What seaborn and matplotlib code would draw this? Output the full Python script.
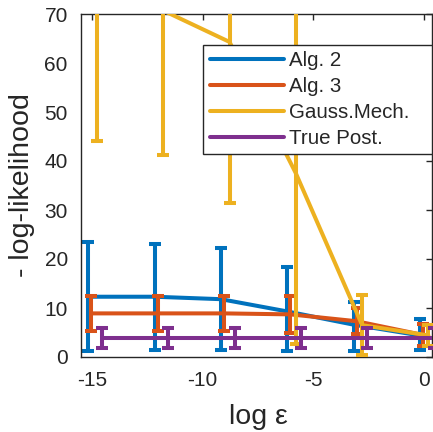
import numpy as np
import pandas as pd
import matplotlib
matplotlib.use("Agg")
import matplotlib.pyplot as plt
import seaborn as sns

# ---- data ----
log_eps = [-15, -12, -9, -6, -3, 0]
series = ["Alg. 2", "Alg. 3", "Gauss.Mech.", "True Post."]
x_offset = {"Alg. 2": -0.17, "Alg. 3": -0.03, "Gauss.Mech.": 0.22, "True Post.": 0.45}

alg2_mean = [12.3, 12.3, 11.8, 9.3, 6.6, 4.4]
alg2_low = [1.3, 1.4, 1.4, 1.3, 1.2, 1.4]
alg2_high = [23.4, 23.1, 22.2, 18.4, 11.3, 7.7]

alg3_mean = [8.9, 8.9, 8.9, 8.7, 7.3, 4.5]
alg3_low = [5.4, 5.3, 5.3, 5.0, 4.6, 2.3]
alg3_high = [12.5, 12.5, 12.5, 12.5, 10.0, 6.7]

gauss_mean = [78.0, 70.7, 64.3, 37.5, 6.5, 4.4]
gauss_low = [44.1, 41.3, 31.4, 2.6, 0.4, 2.2]
gauss_high = [112.0, 100.0, 97.0, 72.0, 12.65, 6.6]

true_mean = [3.9, 3.9, 3.9, 3.9, 3.9, 3.9]
true_low = [1.8, 1.8, 1.8, 1.8, 1.8, 1.8]
true_high = [6.0, 6.0, 6.0, 6.0, 6.0, 6.0]

x_ticks = [-15, -10, -5, 0]
y_ticks = [0, 10, 20, 30, 40, 50, 60, 70]

colors = {"Alg. 2": "#0072BD", "Alg. 3": "#D95319",
          "Gauss.Mech.": "#EDB120", "True Post.": "#7E2F8E"}

data = {
    "Alg. 2": (alg2_mean, alg2_low, alg2_high),
    "Alg. 3": (alg3_mean, alg3_low, alg3_high),
    "Gauss.Mech.": (gauss_mean, gauss_low, gauss_high),
    "True Post.": (true_mean, true_low, true_high),
}

rows = []
for s in series:
    m, lo, hi = data[s]
    for xe, mv, l, h in zip(log_eps, m, lo, hi):
        rows.append({"series": s, "x": xe + x_offset[s], "mean": mv, "low": l, "high": h})
df = pd.DataFrame(rows)

# ---- style ----
sns.set_style("white")
plt.rcParams["font.family"] = ["Liberation Sans", "DejaVu Sans"]
plt.rcParams["axes.edgecolor"] = "#262626"
plt.rcParams["text.color"] = "#262626"

fig = plt.figure(figsize=(4.33, 4.32), dpi=100)
ax = fig.add_axes([81 / 433, 75 / 432, 351 / 433, 343 / 432])

lw = 2.9
for z, s in enumerate(series):
    sub = df[df["series"] == s]
    sns.lineplot(data=sub, x="x", y="mean", color=colors[s], linewidth=lw,
                 label=s, ax=ax, zorder=2 + z, sort=False, estimator=None)
    yerr = np.vstack([sub["mean"] - sub["low"], sub["high"] - sub["mean"]])
    ax.errorbar(sub["x"], sub["mean"], yerr=yerr, fmt="none", ecolor=colors[s],
                elinewidth=lw, capsize=4, capthick=lw, zorder=2 + z)

ax.set_xlim(-15.5, 0.38)
ax.set_ylim(0, 70)
ax.set_xticks(x_ticks)
ax.set_yticks(y_ticks)
ax.set_xticklabels([str(t) for t in x_ticks])
ax.tick_params(direction="in", length=4, width=1, top=True, right=True,
               labelsize=15, colors="#262626")
ax.tick_params(axis="x", pad=10)
ax.tick_params(axis="y", pad=9.5)
for sp in ax.spines.values():
    sp.set_linewidth(1.0)
    sp.set_color("#262626")

ax.set_xlabel("log ε", fontsize=20.5)
ax.set_ylabel("- log-likelihood", fontsize=20.5)
ax.xaxis.set_label_coords(0.504, -0.136)
ax.yaxis.set_label_coords(-0.131, 0.5)

lx0 = (203 - 81) / 351
lw_ax = (432 - 203) / 351
leg = ax.legend(loc="upper left", bbox_to_anchor=(lx0, 0.91, lw_ax, 0.0), mode="expand",
                borderaxespad=0, fontsize=14.8, handlelength=3.6, handletextpad=0.28,
                labelspacing=0.33, borderpad=0.32, frameon=True, fancybox=False,
                framealpha=1)
leg.get_frame().set_edgecolor("#262626")
leg.get_frame().set_linewidth(1.0)
for line in leg.get_lines():
    line.set_linewidth(lw)
leg.set_zorder(10)

fig.savefig("out.png", dpi=100)
